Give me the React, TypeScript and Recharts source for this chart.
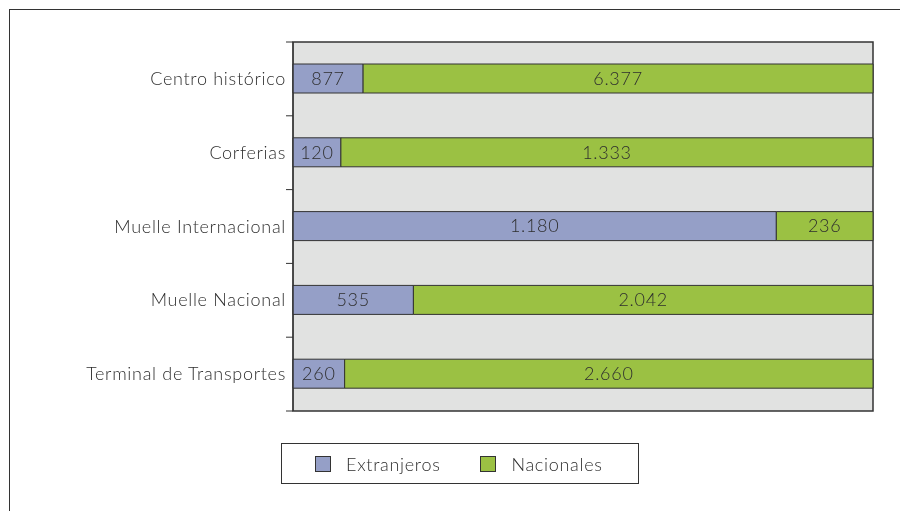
import { BarChart, Bar, XAxis, YAxis, CartesianGrid, LabelList, ReferenceArea } from "recharts"

const sitios = [
  "Centro histórico",
  "Corferias",
  "Muelle Internacional",
  "Muelle Nacional",
  "Terminal de Transportes",
]
const extranjeros = [877, 120, 1180, 535, 260]
const nacionales = [6377, 1333, 236, 2042, 2660]

const data = sitios.map((name, i) => ({
  name,
  ext: extranjeros[i],
  nac: nacionales[i],
}))

const FONT = "Lato, 'Open Sans', sans-serif"
const TEXT = "#2e2e2e"
const BLUE = "#959fc7"
const GREEN = "#9bc143"
const EDGE = "#333333"
const SIZE = 18
const SPACING = 0.7

function fmt(v: any) {
  return String(v).replace(/\B(?=(\d{3})+(?!\d))/g, ".")
}

function CategoryTick(props: any) {
  const { x, y, payload, index, visibleTicksCount } = props
  const ax = x + 8 // tick x comes in already shifted by tickSize + margin
  const half = payload.offset ?? 37
  const last = index === (visibleTicksCount ?? sitios.length) - 1
  return (
    <g>
      <line x1={ax - 7} x2={ax} y1={y - half} y2={y - half} stroke={EDGE} />
      {last && <line x1={ax - 7} x2={ax} y1={y + half} y2={y + half} stroke={EDGE} />}
      <text
        x={ax - 7}
        y={y}
        dy={6}
        textAnchor="end"
        fill={TEXT}
        fontSize={SIZE}
        fontWeight={300}
        fontFamily={FONT}
        letterSpacing={SPACING}
      >
        {payload.value}
      </text>
    </g>
  )
}

function LegendBox() {
  const item = (color: string, label: string) => (
    <div style={{ display: "flex", alignItems: "center" }}>
      <span
        style={{
          width: 14,
          height: 14,
          background: color,
          border: `1px solid ${EDGE}`,
          display: "inline-block",
          marginRight: 15,
        }}
      />
      <span style={{ fontSize: SIZE, fontWeight: 300, color: TEXT, letterSpacing: SPACING }}>{label}</span>
    </div>
  )
  return (
    <div
      style={{
        position: "absolute",
        left: 273,
        top: 435,
        width: 358,
        height: 41,
        border: `1px solid ${EDGE}`,
        display: "flex",
        alignItems: "center",
        paddingLeft: 33,
        boxSizing: "border-box",
        gap: 40,
        fontFamily: FONT,
      }}
    >
      {item(BLUE, "Extranjeros")}
      {item(GREEN, "Nacionales")}
    </div>
  )
}

export default function App() {
  return (
    <div style={{ position: "relative", width: 884, height: 495 }}>
      {/* outer frame: only left and top edges fall inside the window */}
      <div
        style={{
          position: "fixed",
          left: 9,
          top: 9,
          width: 891,
          height: 502,
          borderLeft: `1px solid ${EDGE}`,
          borderTop: `1px solid ${EDGE}`,
          boxSizing: "border-box",
        }}
      />
      <div style={{ position: "absolute", left: 0, top: 0 }}>
        <BarChart
          width={884}
          height={495}
          data={data}
          layout="vertical"
          stackOffset="expand"
          margin={{ top: 34, right: 19, bottom: 92, left: 0 }}
        >
          <CartesianGrid fill="#e1e2e1" horizontal={false} vertical={false} />
          <XAxis type="number" hide domain={[0, 1]} />
          <YAxis
            type="category"
            dataKey="name"
            width={285}
            axisLine={{ stroke: EDGE }}
            tickLine={false}
            tick={<CategoryTick />}
            interval={0}
          />
          <Bar dataKey="ext" stackId="a" fill={BLUE} stroke={EDGE} barSize={29} isAnimationActive={false}>
            <LabelList
              dataKey="ext"
              position="center"
              formatter={fmt}
              fill={TEXT}
              fontSize={SIZE}
              fontWeight={300}
              fontFamily={FONT}
              letterSpacing={SPACING}
            />
          </Bar>
          <Bar dataKey="nac" stackId="a" fill={GREEN} stroke={EDGE} barSize={29} isAnimationActive={false}>
            <LabelList
              dataKey="nac"
              position="center"
              formatter={fmt}
              fill={TEXT}
              fontSize={SIZE}
              fontWeight={300}
              fontFamily={FONT}
              letterSpacing={SPACING}
            />
          </Bar>
          <ReferenceArea x1={0} x2={1} fill="none" stroke={EDGE} strokeWidth={1.5} />
        </BarChart>
      </div>
      <LegendBox />
    </div>
  )
}
